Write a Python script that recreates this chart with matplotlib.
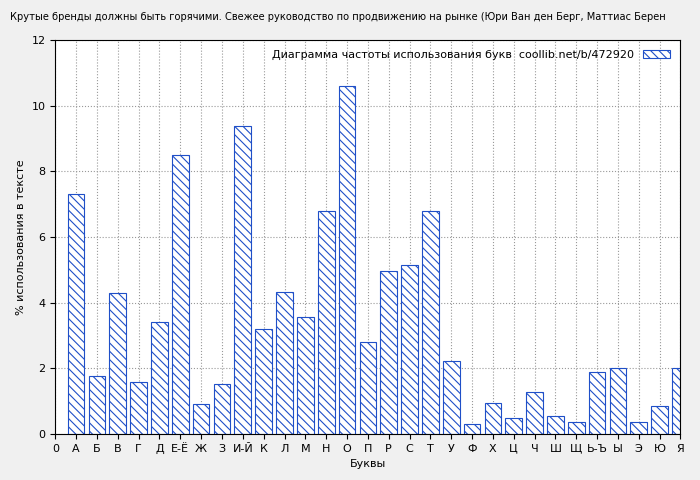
import matplotlib.pyplot as plt

letters = ["А", "Б", "В", "Г", "Д", "Е-Ё", "Ж", "З", "И-Й", "К", "Л", "М", "Н", "О", "П",
           "Р", "С", "Т", "У", "Ф", "Х", "Ц", "Ч", "Ш", "Щ", "Ь-Ъ", "Ы", "Э", "Ю", "Я"]
freq = [7.3, 1.75, 4.28, 1.58, 3.42, 8.48, 0.9, 1.52, 9.37, 3.18, 4.33, 3.57, 6.78, 10.58, 2.8,
        4.95, 5.13, 6.78, 2.22, 0.3, 0.93, 0.5, 1.27, 0.55, 0.35, 1.9, 2.02, 0.35, 0.85, 2.0]
title = "Крутые бренды должны быть горячими. Свежее руководство по продвижению на рынке (Юри Ван ден Берг, Маттиас Берен"

plt.rcParams['hatch.color'] = '#1f4fc8'
plt.rcParams['hatch.linewidth'] = 0.8
fig = plt.figure(figsize=(7, 4.8), dpi=100, facecolor='#f0f0f0')
ax = fig.add_axes([0.079, 0.096, 0.893, 0.821])
pos = list(range(1, len(letters) + 1))
ax.bar(pos, freq, width=0.8, color='white', edgecolor='#1f4fc8', hatch='\\\\\\\\', linewidth=0.8,
       label='Диаграмма частоты использования букв  coollib.net/b/472920', zorder=2)
ax.set_xlim(0, 30)
ax.set_ylim(0, 12)
ax.set_xticks([0] + pos)
ax.set_xticklabels(["0"] + letters, fontsize=8)
ax.set_yticks(range(0, 13, 2))
ax.tick_params(labelsize=8)
ax.grid(True, linestyle=':', color='#999999', zorder=0)
ax.set_axisbelow(True)
ax.set_xlabel('Буквы', fontsize=8)
ax.set_ylabel('% использования в тексте', fontsize=8)
ax.legend(loc='upper right', fontsize=8, frameon=False, markerfirst=False, handlelength=2.5)
fig.text(0.015, 0.975, title, fontsize=7.1, va='top', ha='left')
fig.savefig('out.png', facecolor=fig.get_facecolor())
